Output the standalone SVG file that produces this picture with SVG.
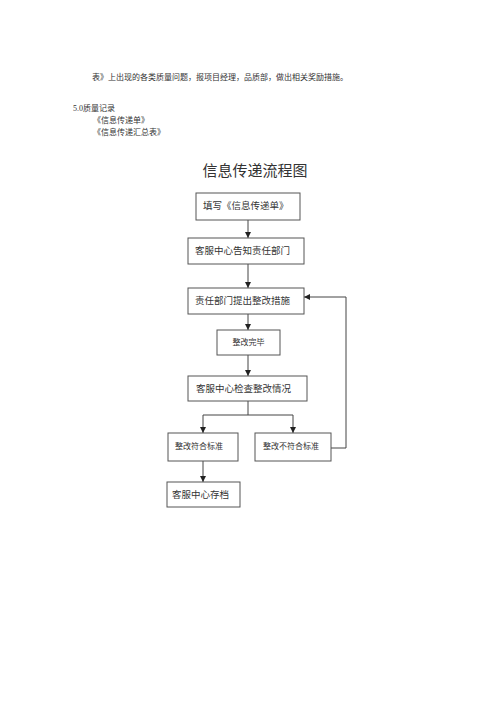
<svg xmlns="http://www.w3.org/2000/svg" width="500" height="707" viewBox="0 0 500 707">
<style>
.t{font-family:"Liberation Serif","Noto Sans CJK SC",serif;fill:#333}
.s{font-size:8px}
.n{fill:#fff;stroke:#555;stroke-width:1}
.nl{font-size:9.5px}
.ln{fill:none;stroke:#444;stroke-width:1}
</style>
<defs>
<marker id="a" viewBox="0 0 6 6" refX="6" refY="3" markerWidth="6" markerHeight="6" orient="auto" markerUnits="userSpaceOnUse">
<path d="M0,0 L6,3 L0,6 z" fill="#222"/>
</marker>
</defs>
<rect width="500" height="707" fill="#fff"/>
<text class="t s" x="92" y="80">表》上出现的各类质量问题，报项目经理，品质部，做出相关奖励措施。</text>
<text class="t s" x="73" y="111">5.0质量记录</text>
<text class="t s" x="93" y="123">《信息传递单》</text>
<text class="t s" x="93" y="135">《信息传递汇总表》</text>
<text class="t" x="255" y="176" font-size="15" text-anchor="middle">信息传递流程图</text>
<g id="connectors">
<line class="ln" x1="248" y1="220" x2="248" y2="238" marker-end="url(#a)"/>
<line class="ln" x1="248" y1="264" x2="248" y2="288" marker-end="url(#a)"/>
<line class="ln" x1="248" y1="314" x2="248" y2="330" marker-end="url(#a)"/>
<line class="ln" x1="248" y1="355" x2="248" y2="376" marker-end="url(#a)"/>
<polyline class="ln" points="248,401 248,415 203,415 203,433" marker-end="url(#a)"/>
<polyline class="ln" points="248,415 293,415 293,433" marker-end="url(#a)"/>
<line class="ln" x1="203" y1="461" x2="203" y2="482" marker-end="url(#a)"/>
<polyline class="ln" points="331,448 346,448 346,297 304,297" marker-end="url(#a)"/>
</g>
<g id="n1"><rect class="n" x="196" y="193" width="104" height="27"/><text class="t nl" x="203" y="209">填写《信息传递单》</text></g>
<g id="n2"><rect class="n" x="188" y="238" width="116" height="26"/><text class="t nl" x="195" y="254">客服中心告知责任部门</text></g>
<g id="n3"><rect class="n" x="188" y="288" width="116" height="26"/><text class="t nl" x="195" y="304">责任部门提出整改措施</text></g>
<g id="n4"><rect class="n" x="217" y="330" width="63" height="25"/><text class="t" font-size="8" x="248.5" y="345" text-anchor="middle">整改完毕</text></g>
<g id="n5"><rect class="n" x="188" y="376" width="119" height="25"/><text class="t nl" x="196" y="392">客服中心检查整改情况</text></g>
<g id="n6"><rect class="n" x="168" y="433" width="70" height="28"/><text class="t" font-size="8" x="175" y="449">整改符合标准</text></g>
<g id="n7"><rect class="n" x="255" y="433" width="76" height="28" stroke="#333" stroke-width="1.6"/><text class="t" font-size="8" x="263" y="449">整改不符合标准</text></g>
<g id="n8"><rect class="n" x="167" y="482" width="73" height="25"/><text class="t nl" x="172" y="498">客服中心存档</text></g>
</svg>
